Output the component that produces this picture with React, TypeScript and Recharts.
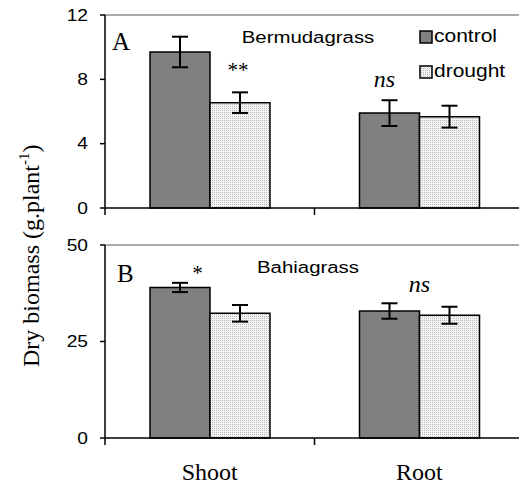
import { BarChart, Bar, XAxis, YAxis, ErrorBar, LabelList, ReferenceLine, Legend } from 'recharts';

// Dry biomass, two grasses, two organs
const categories = ['Shoot', 'Root'];

const bermudaControl = [9.7, 5.9];
const bermudaControlErr = [0.95, 0.8];
const bermudaDrought = [6.55, 5.68];
const bermudaDroughtErr = [0.64, 0.68];
const bermudaControlNote = ['', 'ns'];
const bermudaDroughtNote = ['**', ''];
const bermudaTicks = [0, 4, 8, 12];

const bahiaControl = [39.0, 32.9];
const bahiaControlErr = [1.2, 2.0];
const bahiaDrought = [32.3, 31.8];
const bahiaDroughtErr = [2.15, 2.2];
const bahiaControlNote = ['*', 'ns'];
const bahiaDroughtNote = ['', ''];
const bahiaTicks = [0, 25, 50];

const seriesNames = ['control', 'drought'];

const SERIF = '"Liberation Serif", "Times New Roman", serif';
const SANS = '"Liberation Sans", Arial, sans-serif';
const SX = 1.2; // sans text in the original is set wide

const CHART_W = 524;
const Y_W = 105;
const BAND = (CHART_W - Y_W) / categories.length;

// where the significance marks sit, relative to the top/centre of their bar
const notePlace: Record<string, { dx: number; dy: number }> = {
  'A-drought-0': { dx: -2, dy: -25.8 },
  'A-control-1': { dx: -5, dy: -26.6 },
  'B-control-0': { dx: 17.5, dy: -7.8 },
  'B-control-1': { dx: 30, dy: -19.3 },
};

function rows(c: number[], ce: number[], cn: string[], d: number[], de: number[], dn: string[]) {
  return categories.map((name, i) => ({
    name,
    control: c[i],
    controlErr: ce[i],
    controlNote: cn[i],
    drought: d[i],
    droughtErr: de[i],
    droughtNote: dn[i],
  }));
}

const bermudaRows = rows(bermudaControl, bermudaControlErr, bermudaControlNote, bermudaDrought, bermudaDroughtErr, bermudaDroughtNote);
const bahiaRows = rows(bahiaControl, bahiaControlErr, bahiaControlNote, bahiaDrought, bahiaDroughtErr, bahiaDroughtNote);

const YTick = (props: any) => {
  const { x, y, payload } = props;
  return (
    <text transform={`translate(${x},${y}) scale(${SX},1)`} textAnchor="end" dy="0.355em"
      style={{ fontFamily: SANS }} fontSize={16} fill="#000">
      {payload.value}
    </text>
  );
};

const XTick = (props: any) => {
  const { x, y, payload, showLabel } = props;
  const half = payload.offset || BAND / 2;
  return (
    <g>
      <line x1={x - half} x2={x - half} y1={y} y2={y + 7} stroke="#000" strokeWidth={1.5} />
      {showLabel && (
        <text x={x} y={y + 42} textAnchor="middle" style={{ fontFamily: SERIF }} fontSize={24} fill="#000">
          {payload.value}
        </text>
      )}
    </g>
  );
};

const noteContent = (panel: string, series: string) => (props: any) => {
  const { value, index } = props;
  if (!value) return null;
  const vb = props.viewBox || props;
  const place = notePlace[`${panel}-${series}-${index}`] || { dx: 0, dy: -10 };
  const italic = value === 'ns';
  return (
    <text x={vb.x + vb.width / 2 + place.dx} y={vb.y + place.dy} textAnchor="middle"
      style={{ fontFamily: SERIF, fontStyle: italic ? 'italic' : 'normal' }} fontSize={italic ? 24 : 21} fill="#000">
      {value}
    </text>
  );
};

const LegendBoxes = (props: any) => {
  const payload = props.payload || [];
  const fills = ['#808080', 'url(#legendDots)'];
  return (
    <svg width={100} height={60} style={{ overflow: 'visible', display: 'block' }}>
      <defs>
        <pattern id="legendDots" width="2" height="2" patternUnits="userSpaceOnUse">
          <rect width="2" height="2" fill="#f4f4f4" />
          <rect width="1" height="1" fill="#b8b8b8" />
        </pattern>
      </defs>
      {seriesNames.map((name, i) => {
        const entry = payload.find((p: any) => p.value === name);
        return (
          <g key={name}>
            <rect x={1} y={3 + i * 35} width={12} height={12} fill={fills[i]} stroke="#000" strokeWidth={1.5} />
            <text transform={`translate(15,${13.5 + i * 35}) scale(${SX},1)`} style={{ fontFamily: SANS }} fontSize={17.5} fill="#000">
              {entry ? entry.value : name}
            </text>
          </g>
        );
      })}
    </svg>
  );
};

function Panel({ id, data, ticks, top, height, xHeight, showLabels, legend }: any) {
  const dots = `dots${id}`;
  return (
    <div style={{ position: 'absolute', left: 0, top }}>
      <BarChart width={CHART_W} height={height} data={data} barGap={0} barSize={60}
        margin={{ top: 15, right: 0, bottom: 0, left: 0 }}>
        <defs>
          <pattern id={dots} width="2" height="2" patternUnits="userSpaceOnUse">
            <rect width="2" height="2" fill="#f4f4f4" />
            <rect width="1" height="1" fill="#b8b8b8" />
          </pattern>
        </defs>
        <XAxis dataKey="name" height={xHeight} interval={0} tickLine={false} tickSize={0} tickMargin={0}
          axisLine={{ stroke: '#000', strokeWidth: 1.5 }}
          tick={(p: any) => <XTick {...p} showLabel={showLabels} />} />
        <YAxis width={Y_W} domain={[0, ticks[ticks.length - 1]]} ticks={ticks} interval={0}
          tickSize={5} tickMargin={12} tick={<YTick />}
          axisLine={{ stroke: '#000', strokeWidth: 1.5 }} tickLine={{ stroke: '#000', strokeWidth: 1.5 }} />
        <ReferenceLine y={ticks[ticks.length - 1]} stroke="#555" strokeWidth={1} />
        {legend && (
          <Legend layout="horizontal" verticalAlign="middle" align="center"
            wrapperStyle={{ left: 419, top: 28, width: 100, height: 60 }} content={<LegendBoxes />} />
        )}
        <Bar dataKey="control" name="control" fill="#808080" stroke="#000" strokeWidth={1.5} isAnimationActive={false}>
          <ErrorBar dataKey="controlErr" width={8} stroke="#000" strokeWidth={2} />
          <LabelList dataKey="controlNote" content={noteContent(id, 'control')} />
        </Bar>
        <Bar dataKey="drought" name="drought" fill={`url(#${dots})`} stroke="#000" strokeWidth={1.5} isAnimationActive={false}>
          <ErrorBar dataKey="droughtErr" width={8} stroke="#000" strokeWidth={2} />
          <LabelList dataKey="droughtNote" content={noteContent(id, 'drought')} />
        </Bar>
      </BarChart>
    </div>
  );
}

export default function App() {
  return (
    <div style={{ position: 'fixed', left: 0, top: 0, width: 519, height: 487, overflow: 'hidden', background: '#fff' }}>
      <Panel id="A" data={bermudaRows} ticks={bermudaTicks} top={0} height={218} xHeight={10} showLabels={false} legend />
      <Panel id="B" data={bahiaRows} ticks={bahiaTicks} top={230} height={257} xHeight={49} showLabels legend={false} />
      <svg width={519} height={487} style={{ position: 'absolute', left: 0, top: 0, pointerEvents: 'none' }}>
        <text transform="translate(39.3,367) rotate(-90)" style={{ fontFamily: SERIF }} fontSize={24} fill="#000">
          Dry biomass (g.plant<tspan fontSize={15} dy={-10}>-1</tspan><tspan dy={10}>)</tspan>
        </text>
        <text x={112} y={50} style={{ fontFamily: SERIF }} fontSize={25} fill="#000">A</text>
        <text transform={`translate(241.7,43) scale(${SX},1)`} style={{ fontFamily: SANS }} fontSize={17} fill="#000">Bermudagrass</text>
        <text x={117} y={282} style={{ fontFamily: SERIF }} fontSize={25} fill="#000">B</text>
        <text transform={`translate(257,273) scale(${SX},1)`} style={{ fontFamily: SANS }} fontSize={17} fill="#000">Bahiagrass</text>
      </svg>
    </div>
  );
}
